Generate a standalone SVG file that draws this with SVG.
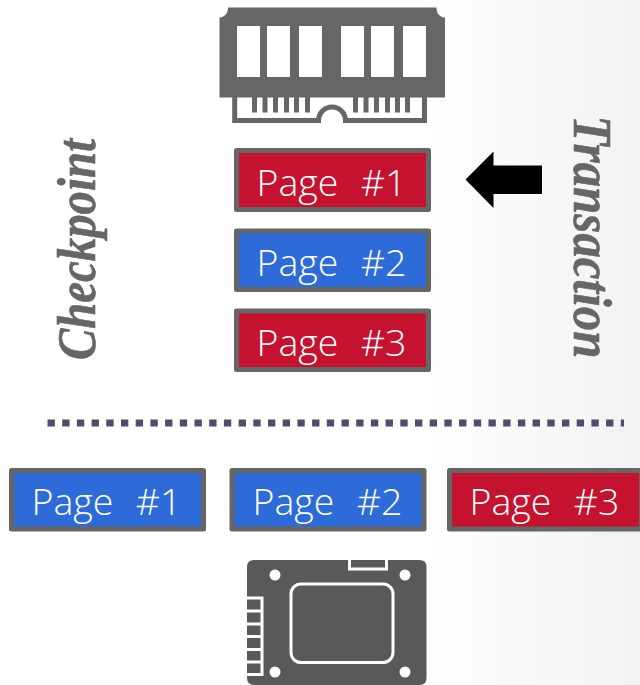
<svg xmlns="http://www.w3.org/2000/svg" width="640" height="685" viewBox="0 0 640 685">
<style>
.box{stroke:#666;stroke-width:5;stroke-linejoin:round}
.red{fill:#c4122f}
.blue{fill:#2d6bd9}
.lbl{font-family:"Open Sans","Noto Sans",sans-serif;font-size:37.500px;font-weight:300;word-spacing:1.500px;fill:#fff;white-space:pre}
.side{font-family:"Liberation Serif",serif;font-style:italic;font-weight:bold;font-size:54px;fill:#666;stroke:#666;stroke-width:.6}
</style>
<defs>
<linearGradient id="bg" x1="0" x2="1" y1="0" y2="0"><stop offset="0.66" stop-color="#fff"/><stop offset="1" stop-color="#f2f2f2"/></linearGradient>
</defs>
<rect width="640" height="685" fill="url(#bg)"/>
<g id="ram">
<path fill="#666" fill-rule="evenodd" d="M228 7.500H436.500C436.500 13 439 17 445 17.500V97.500H219.500V17.500C225 17 228 13 228 7.500ZM237 26V77H260V26ZM267 26V77H290V26ZM299 26V77H322V26ZM341 26V77H364V26ZM371 26V77H394V26ZM403 26V77H426V26Z"/>
<path fill="none" stroke="#666" stroke-width="5" d="M234.700 97V120.500H318.500A13.500 13.500 0 0 1 345.500 120.500H424.500V97"/>
<path fill="#666" d="M252 97h5v15.500h-5zM262.500 97h5v15.500h-5zM273 97h5v15.500h-5zM284 97h5v15.500h-5zM294 97h5v15.500h-5zM305 97h5v15.500h-5zM353 97h5v15.500h-5zM363.500 97h5v15.500h-5zM374 97h5v15.500h-5zM385 97h5v15.500h-5zM395 97h5v15.500h-5zM405 97h5v15.500h-5z"/>
</g>
<g id="mem1"><rect class="box red" x="236.500" y="150.500" width="192" height="59"/><text class="lbl" x="256.500" y="196" xml:space="preserve">Page  #1</text></g>
<g id="mem2"><rect class="box blue" x="236.500" y="231" width="192" height="58.500"/><text class="lbl" x="256.500" y="276" xml:space="preserve">Page  #2</text></g>
<g id="mem3"><rect class="box red" x="236.500" y="311" width="192" height="58.500"/><text class="lbl" x="256.500" y="356" xml:space="preserve">Page  #3</text></g>
<g id="checkpoint"><text class="side" transform="translate(95 360) rotate(-90)" textLength="221" lengthAdjust="spacingAndGlyphs">Checkpoint</text></g>
<g id="transaction"><text class="side" transform="translate(574 115.500) rotate(90)" textLength="243" lengthAdjust="spacingAndGlyphs">Transaction</text></g>
<g id="connectors">
<path fill="#000" d="M465.500 179.500L493.500 151.500V165.500H542V194H493.500V208Z"/>
<path fill="none" stroke="#4d4d6e" stroke-width="7" stroke-dasharray="7.350 7.350" d="M47.500 423H624"/>
</g>
<g id="disk1"><rect class="box blue" x="11.500" y="470.500" width="192" height="58.500"/><text class="lbl" x="31.500" y="515" xml:space="preserve">Page  #1</text></g>
<g id="disk2"><rect class="box blue" x="232" y="470.500" width="192" height="58.500"/><text class="lbl" x="252.500" y="515" xml:space="preserve">Page  #2</text></g>
<g id="disk3"><rect class="box red" x="449.500" y="470.500" width="192" height="58.500"/><text class="lbl" x="469.500" y="515" xml:space="preserve">Page  #3</text></g>
<g id="ssd">
<path fill="#595959" d="M254 560H419.500Q426.500 560 426.500 567V678Q426.500 685 419.500 685H254Q247 685 247 678V567Q247 560 254 560Z"/>
<g fill="none" stroke="#fff" stroke-width="3">
<path d="M349.500 560V569H386.500V560"/>
<rect x="291" y="584" width="102" height="78.500" rx="10"/>
<path d="M247 598H262V674.500H247M247 611H262M247 624H262M247 636.500H262M247 649.500H262M247 662H262"/>
</g>
<g fill="#fff"><circle cx="275" cy="575" r="5.500"/><circle cx="405" cy="575" r="5.500"/><circle cx="275" cy="672" r="5.500"/><circle cx="405" cy="672" r="5.500"/></g>
</g>
</svg>
